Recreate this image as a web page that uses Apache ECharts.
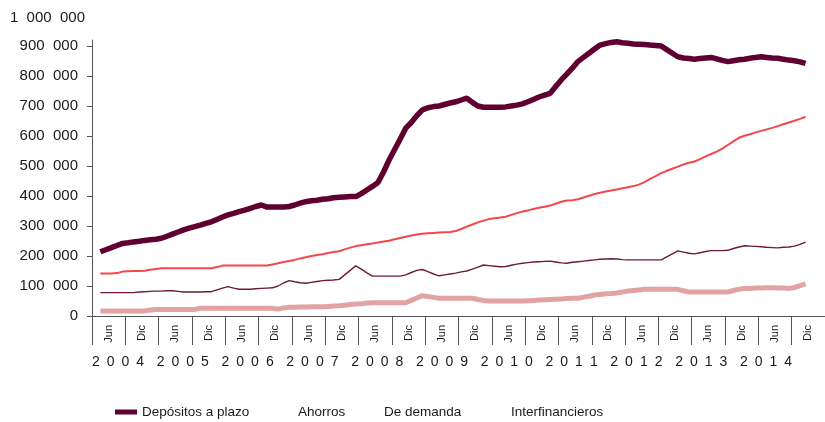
<!DOCTYPE html>
<html>
<head>
<meta charset="utf-8">
<script src="https://cdn.jsdelivr.net/npm/echarts@6/dist/echarts.min.js"></script>
<style>
  html, body { margin: 0; padding: 0; background: #fff; }
  #chart { width: 825px; height: 422px; }
</style>
</head>
<body>
<div id="chart"></div>
<script>
// Depósitos del sistema financiero, en miles (mensual, feb-2004 a sep-2014)
const anios = ['2004', '2005', '2006', '2007', '2008', '2009', '2010', '2011', '2012', '2013', '2014'];
const nombresMes = ['Ene', 'Feb', 'Mar', 'Abr', 'May', 'Jun', 'Jul', 'Ago', 'Sep', 'Oct', 'Nov', 'Dic'];
const semestre = ['Jun', 'Dic'];
const yTicks = [0, 100, 200, 300, 400, 500, 600, 700, 800, 900];
const yTope = '1  000  000';

// primer mes (ene-2004) sin dato
const depositosPlazo = [null,
  214, 221, 228, 235, 242, 244, 247, 249, 252, 254,
  256, 259, 266, 273, 280, 287, 293, 298, 303, 309,
  314, 322, 330, 337, 342, 348, 353, 359, 365, 370,
  363, 363, 363, 363, 365, 370, 376, 381, 384, 386,
  389, 391, 394, 396, 397, 398, 398, 408, 420, 432,
  445, 480, 520, 555, 590, 626, 645, 668, 687, 694,
  698, 700, 705, 710, 714, 720, 726, 712, 700, 696,
  696, 696, 696, 697, 700, 703, 707, 714, 722, 730,
  736, 742, 765, 787, 806, 826, 848, 862, 876, 890,
  903, 908, 912, 914, 911, 909, 907, 906, 905, 903,
  902, 900, 888, 876, 864, 860, 858, 856, 858, 860,
  862, 857, 852, 848, 851, 854, 856, 859, 862, 864,
  862, 860, 859, 856, 853, 851, 847, 842];

const ahorros = [null,
  142, 142, 142, 143, 148, 149, 150, 150, 151, 154,
  157, 159, 159, 159, 159, 159, 159, 159, 159, 159,
  159, 163, 168, 168, 168, 168, 168, 168, 168, 168,
  168, 172, 176, 180, 183, 187, 192, 196, 200, 203,
  206, 210, 213, 216, 222, 228, 233, 236, 239, 242,
  245, 248, 251, 256, 260, 264, 268, 272, 274, 276,
  277, 278, 279, 280, 283, 290, 298, 305, 312, 318,
  323, 326, 328, 331, 337, 343, 348, 352, 357, 361,
  364, 368, 374, 381, 385, 386, 389, 395, 401, 407,
  411, 415, 418, 422, 426, 429, 433, 438, 446, 457,
  466, 476, 484, 491, 498, 505, 511, 515, 523, 532,
  540, 548, 558, 570, 582, 594, 601, 606, 612, 617,
  622, 627, 633, 639, 645, 651, 657, 664];

const deDemanda = [null,
  78, 78, 78, 78, 78, 78, 78, 80, 81, 82,
  83, 83, 84, 84, 82, 80, 80, 80, 80, 81,
  81, 87, 93, 98, 93, 89, 89, 89, 91, 92,
  93, 94, 100, 110, 118, 114, 111, 109, 112, 115,
  118, 119, 120, 122, 137, 152, 167, 156, 144, 133,
  133, 133, 133, 133, 133, 137, 145, 152, 155, 148,
  140, 134, 137, 140, 143, 147, 150, 156, 163, 170,
  168, 166, 164, 165, 169, 173, 176, 178, 180, 181,
  182, 183, 180, 177, 176, 179, 181, 183, 185, 187,
  189, 190, 191, 190, 188, 187, 187, 187, 187, 187,
  187, 187, 197, 207, 217, 213, 209, 207, 211, 215,
  218, 218, 218, 219, 225, 230, 234, 233, 232, 231,
  229, 228, 227, 229, 230, 233, 239, 246];

const interfinancieros = [null,
  17, 17, 17, 17, 17, 17, 17, 17, 17, 20,
  22, 22, 22, 22, 22, 22, 22, 22, 26, 26,
  26, 26, 26, 26, 26, 26, 26, 26, 26, 26,
  26, 26, 23, 27, 29, 29, 30, 30, 31, 31,
  31, 32, 33, 34, 36, 38, 40, 41, 43, 44,
  44, 44, 44, 44, 44, 44, 52, 60, 68, 65,
  62, 59, 59, 59, 59, 59, 59, 59, 55, 52,
  50, 50, 50, 50, 50, 50, 50, 51, 52, 53,
  54, 55, 56, 57, 58, 59, 59, 63, 66, 70,
  72, 74, 75, 77, 80, 83, 85, 87, 89, 89,
  89, 89, 89, 89, 89, 84, 80, 80, 80, 80,
  80, 80, 80, 80, 85, 89, 92, 92, 93, 93,
  94, 94, 93, 93, 92, 95, 101, 107];

// categorías mensuales y etiquetas semestrales
const meses = [];
const semestres = [];
anios.forEach(a => {
  nombresMes.forEach(m => meses.push(m + ' ' + a));
  semestre.forEach(s => semestres.push(s));
});

const fuente = "'Liberation Sans', Arial, sans-serif";
const txt = '#1a1a1a';
const eje = '#555';

const chart = echarts.init(document.getElementById('chart'));

// una leyenda por serie, para poder colocar cada una donde está en el original
function leyenda(nombre, left, visible) {
  return {
    data: [nombre], left: left, top: 405, padding: 0,
    icon: 'rect', itemWidth: visible ? 22 : 1, itemHeight: 5, itemGap: 0,
    itemStyle: visible ? {} : { opacity: 0 },
    selectedMode: false,
    textStyle: { fontFamily: fuente, fontSize: 13.5, color: txt },
  };
}

chart.setOption({
  animation: false,
  backgroundColor: '#fff',
  grid: [
    { left: 92, right: -11.5, top: 40, bottom: 106 },
    { left: 85.6, right: 26.6, top: 40, bottom: 106 },
  ],
  xAxis: [
    { type: 'category', gridIndex: 0, data: meses, boundaryGap: true, show: false },
    {
      type: 'category', gridIndex: 0, data: semestres, position: 'bottom', boundaryGap: true,
      axisLine: { show: true, onZero: false, lineStyle: { color: eje, width: 1 } },
      axisTick: { show: true, interval: 0, length: 29, lineStyle: { color: eje } },
      axisLabel: { interval: 0, rotate: 90, margin: 9, fontSize: 11, color: txt, fontFamily: fuente },
    },
    {
      type: 'category', gridIndex: 1, data: anios, position: 'bottom',
      axisLine: { show: false }, axisTick: { show: false },
      axisLabel: {
        interval: 0, margin: 39, fontSize: 14, color: txt, fontFamily: fuente,
        formatter: v => v.split('').join('\u2002'),
      },
    },
  ],
  yAxis: [
    {
      type: 'value', gridIndex: 0, min: 0, max: 920,
      axisLine: { show: true, lineStyle: { color: eje, width: 1 } },
      axisTick: { show: true, length: 5, customValues: yTicks, lineStyle: { color: eje } },
      axisLabel: {
        customValues: yTicks, margin: 14, fontSize: 15, color: txt, fontFamily: fuente,
        formatter: v => v === 0 ? '0' : v + '  000',
      },
      splitLine: { show: false },
      name: yTope, nameLocation: 'end', nameGap: 15,
      nameTextStyle: { align: 'right', verticalAlign: 'bottom', padding: [0, 7, 0, 0], fontSize: 15, color: txt, fontFamily: fuente },
    },
    { type: 'value', gridIndex: 1, show: false },
  ],
  legend: [
    leyenda('Depósitos a plazo', 115, true),
    leyenda('Ahorros', 292, false),
    leyenda('De demanda', 378, false),
    leyenda('Interfinancieros', 505, false),
  ],
  series: [
    {
      name: 'Interfinancieros', type: 'line', data: interfinancieros, symbol: 'none',
      lineStyle: { width: 5, color: '#e2a3a3' }, itemStyle: { color: '#e2a3a3' },
    },
    {
      name: 'De demanda', type: 'line', data: deDemanda, symbol: 'none',
      lineStyle: { width: 1.4, color: '#6e1a3e' }, itemStyle: { color: '#6e1a3e' },
    },
    {
      name: 'Ahorros', type: 'line', data: ahorros, symbol: 'none',
      lineStyle: { width: 2, color: '#f2474b' }, itemStyle: { color: '#f2474b' },
    },
    {
      name: 'Depósitos a plazo', type: 'line', data: depositosPlazo, symbol: 'none',
      lineStyle: { width: 5.5, color: '#600030' }, itemStyle: { color: '#600030' },
    },
  ],
});

window.addEventListener('resize', () => chart.resize());
</script>
</body>
</html>
